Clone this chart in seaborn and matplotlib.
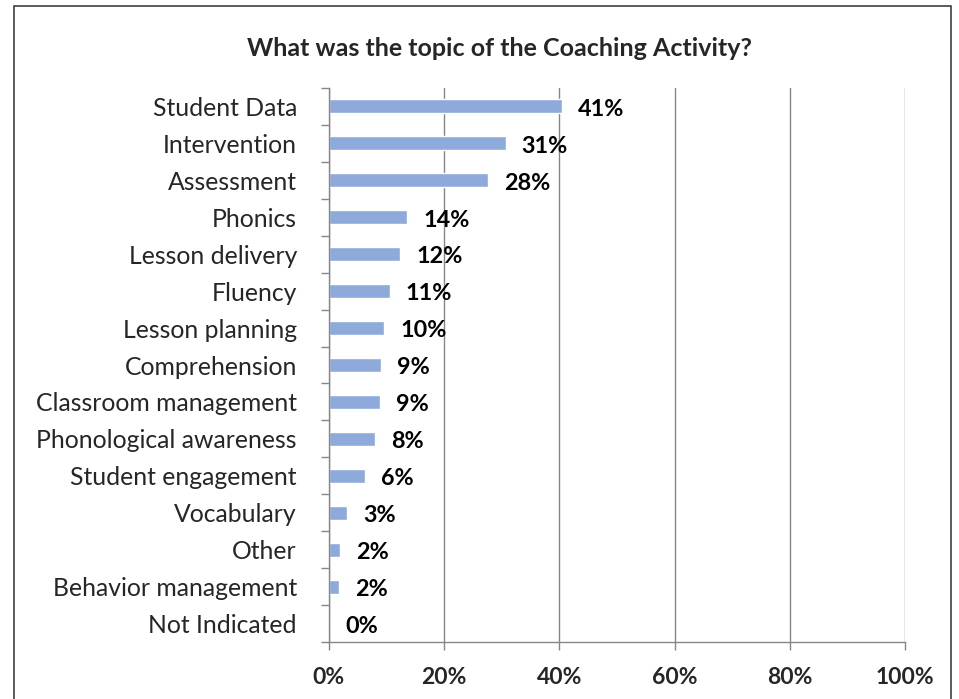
import numpy as np
import pandas as pd
import matplotlib
matplotlib.use('Agg')
import matplotlib.pyplot as plt
import seaborn as sns
from matplotlib.patches import Rectangle
from matplotlib.ticker import FixedLocator

# values
topics = ['Student Data', 'Intervention', 'Assessment', 'Phonics', 'Lesson delivery',
          'Fluency', 'Lesson planning', 'Comprehension', 'Classroom management',
          'Phonological awareness', 'Student engagement', 'Vocabulary', 'Other',
          'Behavior management', 'Not Indicated']
shares = [40.5, 30.7, 27.7, 13.6, 12.4, 10.6, 9.6, 9.0, 8.8, 8.0, 6.2, 3.2, 1.9, 1.7, 0.0]
labels = ['41%', '31%', '28%', '14%', '12%', '11%', '10%', '9%', '9%', '8%', '6%', '3%', '2%', '2%', '0%']
xticks = [0, 20, 40, 60, 80, 100]

df = pd.DataFrame({'topic': topics, 'share': shares})

sns.set_theme(style='white')
plt.rcParams['font.family'] = ['Lato', 'DejaVu Sans']

fig = plt.figure(figsize=(9.59, 6.99), dpi=100)
ax = fig.add_axes([0.343, 0.0815, 0.6006, 0.7926])

sns.barplot(data=df, y='topic', x='share', orient='h', color='#8eaadb',
            saturation=1, width=0.38, ax=ax)

ax.set_xlim(0, 100)
ax.set_ylim(len(topics) - 0.5, -0.5)
ax.set_xticks(xticks)
ax.set_xticklabels([f'{t}%' for t in xticks], fontsize=16.5, fontweight='bold')
ax.set_xlabel('')
ax.set_ylabel('')
ax.tick_params(axis='y', which='major', length=0, labelsize=17.8, pad=23)
ax.yaxis.set_minor_locator(FixedLocator(np.arange(-0.5, len(topics), 1)))
ax.tick_params(axis='y', which='minor', length=6, color='#868686', width=1, direction='out', left=True)
ax.tick_params(axis='x', which='major', length=6, color='#868686', width=1, direction='out',
               bottom=True, pad=12)
ax.grid(axis='x', color='#868686', linewidth=1)
ax.set_axisbelow(True)
for s in ['top', 'right']:
    ax.spines[s].set_visible(False)
for s in ['left', 'bottom']:
    ax.spines[s].set_color('#868686')
    ax.spines[s].set_linewidth(1)

for i, (v, lab) in enumerate(zip(shares, labels)):
    ax.annotate(lab, (v, i), xytext=(11.5, -2), textcoords='offset points',
                ha='left', va='center', fontsize=16.8, fontweight='bold', color='black')

fig.text(0.521, 0.931, 'What was the topic of the Coaching Activity?', ha='center',
         va='center', fontsize=18, fontweight='bold')

fig.patches.append(Rectangle((14 / 959, -0.1), (951 - 14) / 959, 1.1 - 6 / 699,
                             transform=fig.transFigure, fill=False,
                             edgecolor='#404040', linewidth=1.2))

fig.savefig('out.png', dpi=100)
